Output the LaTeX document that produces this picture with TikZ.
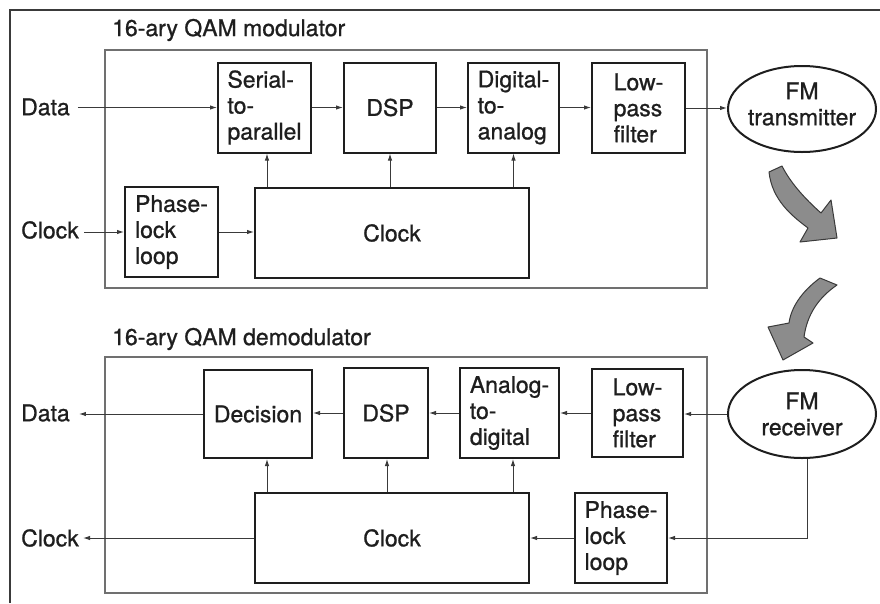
\documentclass[tikz,border=0pt]{standalone}
\usepackage{fontspec}
\setmainfont{TeX Gyre Heros}
\newfontfamily\heavy{TeX Gyre Heros}[FakeBold=0.9]
\usetikzlibrary{arrows.meta,shapes.geometric}
\definecolor{ink}{HTML}{1E1E1E}
\definecolor{lineg}{HTML}{3A3A3A}
\definecolor{frameg}{HTML}{707070}
\definecolor{fillg}{HTML}{8C8C8C}
\begin{document}
\begin{tikzpicture}[x=1pt,y=-1pt,
  txt/.style={font=\heavy\fontsize{23}{26}\selectfont, text=ink},
  blk/.style={txt, draw=ink, line width=2pt, align=left, inner sep=0pt},
  ellbox/.style={draw=ink, line width=2pt, ellipse, inner sep=0pt, minimum width=148pt},
  lbl/.style={txt, inner sep=0pt, align=center},
  modbox/.style={draw=frameg, line width=1.6pt, inner sep=0pt},
  conn/.style={draw=lineg, line width=1pt, -{Latex[length=7pt,width=4.5pt]}},
  bigarr/.style={fill=fillg, draw=lineg, line width=1pt, line join=round}]
\useasboundingbox (0,0) rectangle (880,603);
\fill[white] (0,0) rectangle (880,603);
% outer frame
\draw[line width=1.6pt, draw=lineg] (10,603) -- (10,10) -- (880,10);

% ---------- modulator ----------
\node[modbox, minimum width=602pt, minimum height=238pt] (mod) at (406,169) {};
\node[lbl, anchor=west] (tmod) at (112,30) {16-ary QAM modulator};

\node[blk, minimum width=93pt, minimum height=90pt] (s2p) at (264.5,107.5) {Serial-\\to-\\parallel};
\node[blk, minimum width=92pt, minimum height=90pt] (dspA) at (390,107.5) {DSP};
\node[blk, minimum width=91pt, minimum height=90pt] (d2a) at (513.5,107.5) {Digital-\\to-\\analog};
\node[blk, minimum width=93pt, minimum height=90pt] (lpfA) at (638.5,108) {Low-\\pass\\filter};
\node[ellbox, minimum height=86pt] (tx) at (802,109) {};
\node[lbl] (txt) at (802,104) {FM\\transmitter};

\node[blk, minimum width=93pt, minimum height=90pt] (pllA) at (171.5,232) {Phase-\\lock\\loop};
\node[blk, minimum width=274pt, minimum height=90pt] (clkA) at (392,233) {Clock};

\node[lbl, anchor=west] (dataIn) at (21,107) {Data};
\node[lbl, anchor=west] (clkIn) at (21,230) {Clock};

\draw[conn] ([xshift=8pt]dataIn.east |- s2p.west) -- (s2p.west);
\draw[conn] ([xshift=5pt]clkIn.east |- pllA.west) -- (pllA.west);
\draw[conn] (pllA.east) -- (pllA.east -| clkA.west);
\draw[conn] (s2p.east) -- (dspA.west);
\draw[conn] (dspA.east) -- (d2a.west);
\draw[conn] (d2a.east) -- (d2a.east -| lpfA.west);
\draw[conn] (lpfA.east) -- (lpfA.east -| tx.west);
\draw[conn] ([xshift=2.5pt]s2p.south |- clkA.north) -- ([xshift=2.5pt]s2p.south);
\draw[conn] (dspA.south |- clkA.north) -- (dspA.south);
\draw[conn] (d2a.south |- clkA.north) -- (d2a.south);

% ---------- curved transfer arrows ----------
\path[bigarr] (769,172) .. controls (772,200) and (792,216) .. (808,228)
  -- (800,242) -- (837,238) -- (831,200) -- (821,213)
  .. controls (804,198) and (790,182) .. (782,166) -- cycle;
\path[bigarr] (820,278) .. controls (801,292) and (791,308) .. (789,323)
  -- (768,327) -- (783,360) -- (813,343) -- (804,337)
  .. controls (807,315) and (818,298) .. (837,285) -- cycle;

% ---------- demodulator ----------
\node[modbox, minimum width=602pt, minimum height=236pt] (demod) at (406,475) {};
\node[lbl, anchor=west] (tdemod) at (112,339) {16-ary QAM demodulator};

\node[blk, minimum width=108pt, minimum height=88pt] (dec) at (258,414) {Decision};
\node[blk, minimum width=84pt, minimum height=90pt] (dspB) at (386,413) {DSP};
\node[blk, minimum width=99pt, minimum height=90pt] (a2d) at (509.5,413) {Analog-\\to-\\digital};
\node[blk, minimum width=91pt, minimum height=88pt] (lpfB) at (637.5,413) {Low-\\pass\\filter};
\node[ellbox, minimum height=88pt] (rx) at (802,414) {};
\node[lbl] (rxt) at (802,414) {FM\\receiver};

\node[blk, minimum width=274pt, minimum height=90pt] (clkB) at (392,538) {Clock};
\node[blk, minimum width=92pt, minimum height=90pt] (pllB) at (621,538) {Phase-\\lock\\loop};

\node[lbl, anchor=west] (dataOut) at (21,413) {Data};
\node[lbl, anchor=west] (clkOut) at (21,538) {Clock};

\draw[conn] (rx.west) -- (rx.west -| lpfB.east);
\draw[conn] (lpfB.west) -- (lpfB.west -| a2d.east);
\draw[conn] (a2d.west) -- (a2d.west -| dspB.east);
\draw[conn] (dspB.west) -- (dspB.west -| dec.east);
\draw[conn] (dec.west) -- ([xshift=9pt]dataOut.east |- dec.west);
\draw[conn] (clkB.west) -- ([xshift=4pt]clkOut.east |- clkB.west);
\draw[conn] (pllB.west) -- (pllB.west -| clkB.east);
\draw[conn] ([xshift=5pt]rx.south) |- (pllB.east);
\draw[conn] ([xshift=9pt]dec.south |- clkB.north) -- ([xshift=9pt]dec.south);
\draw[conn] ([xshift=1pt]dspB.south |- clkB.north) -- ([xshift=1pt]dspB.south);
\draw[conn] ([xshift=3.5pt]a2d.south |- clkB.north) -- ([xshift=3.5pt]a2d.south);
\end{tikzpicture}
\end{document}
